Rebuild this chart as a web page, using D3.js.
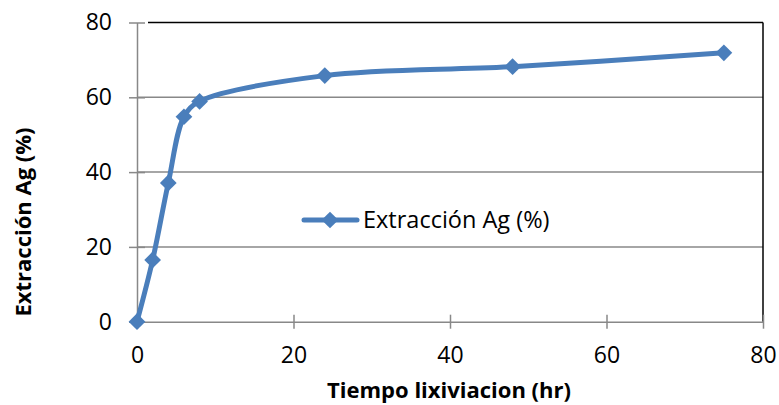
<!DOCTYPE html>
<html lang="en">
<head>
<meta charset="utf-8">
<style>
    body { margin: 0; background: #fff; }
    svg text { font-family: "Open Sans", "Liberation Sans", sans-serif; fill: #000; }
    .title { font-weight: bold; font-size: 22px; }
</style>
<script src="https://d3js.org/d3.v7.min.js"></script>
</head>
<body>
<svg width="779" height="405"></svg>
<script>
    // data
    var hours = [0, 2, 4, 6, 8, 24, 48, 75];
    var extraction = [0, 16.5, 37.1, 54.8, 58.9, 65.8, 68.2, 71.9];
    var xTicks = [0, 20, 40, 60, 80];
    var yTicks = [0, 20, 40, 60, 80];
    var seriesName = "Extracción Ag (%)";

    var svg = d3.select("svg");
    var margin = {left: 137, right: 16, top: 22.5, bottom: 83.3};
    var width = 779 - margin.left - margin.right,
        height = 405 - margin.top - margin.bottom;

    var g = svg.append("g")
        .attr("transform", "translate(" + margin.left + "," + margin.top + ")");

    var x = d3.scaleLinear().domain([0, 80]).range([0, width]);
    var y = d3.scaleLinear().domain([0, 80]).range([height, 0]);

    // horizontal gridlines
    g.selectAll(".grid")
        .data(yTicks.filter(function(d) { return d > 0 && d < 80; }))
        .enter().append("line")
        .attr("x1", 0).attr("x2", width)
        .attr("y1", function(d) { return y(d); })
        .attr("y2", function(d) { return y(d); })
        .attr("stroke", "#888").attr("stroke-width", 1.5);

    // plot border top and right
    g.append("line").attr("x1", 11).attr("x2", width).attr("y1", 0).attr("y2", 0)
        .attr("stroke", "#000").attr("stroke-width", 1.5);
    g.append("line").attr("x1", width).attr("x2", width).attr("y1", 0).attr("y2", height)
        .attr("stroke", "#000").attr("stroke-width", 1.5);

    var xAxis = g.append("g")
        .attr("transform", "translate(0," + height + ")")
        .call(d3.axisBottom(x).tickValues(xTicks).tickSizeInner(7).tickSizeOuter(0).tickPadding(18));
    xAxis.selectAll(".tick line").attr("y1", -7);

    var yAxis = g.append("g")
        .call(d3.axisLeft(y).tickValues(yTicks).tickSizeInner(8).tickSizeOuter(0).tickPadding(17));
    yAxis.selectAll(".tick line").attr("x1", 8);

    [xAxis, yAxis].forEach(function(a) {
        a.attr("font-size", null).attr("font-family", null);
        a.select(".domain").attr("stroke", "#888").attr("stroke-width", 1.5);
        a.selectAll(".tick line").attr("stroke", "#888").attr("stroke-width", 1.5);
        a.selectAll(".tick text").style("font-size", "23px").attr("fill", "#000");
    });

    var pts = hours.map(function(h, i) { return [h, extraction[i]]; });

    var line = d3.line()
        .x(function(d) { return x(d[0]); })
        .y(function(d) { return y(d[1]); })
        .curve(d3.curveCatmullRom.alpha(0.5));

    var blue = "#4A7EBB";
    var marker = d3.symbol().type(d3.symbolSquare).size(140);

    g.append("path")
        .datum(pts)
        .attr("d", line)
        .attr("fill", "none")
        .attr("stroke", blue)
        .attr("stroke-width", 5)
        .attr("stroke-linejoin", "round");

    g.selectAll(".pt")
        .data(pts)
        .enter().append("path")
        .attr("transform", function(d) { return "translate(" + x(d[0]) + "," + y(d[1]) + ") rotate(45)"; })
        .attr("d", marker)
        .attr("fill", blue);

    // legend
    var lg = svg.append("g").attr("transform", "translate(304,220)");
    lg.append("line").attr("x1", 0).attr("x2", 53).attr("y1", 0).attr("y2", 0)
        .attr("stroke", blue).attr("stroke-width", 5).attr("stroke-linecap", "round");
    lg.append("path").attr("transform", "translate(26,0) rotate(45)")
        .attr("d", marker).attr("fill", blue);
    lg.append("text").attr("x", 59).attr("y", 8).style("font-size", "23.5px").text(seriesName);

    // axis titles
    svg.append("text").attr("class", "title")
        .attr("x", 449).attr("y", 398)
        .attr("text-anchor", "middle")
        .text("Tiempo lixiviacion (hr)");

    svg.append("text").attr("class", "title")
        .attr("transform", "translate(31,222) rotate(-90)")
        .attr("text-anchor", "middle")
        .text("Extracción Ag (%)");
</script>
</body>
</html>
